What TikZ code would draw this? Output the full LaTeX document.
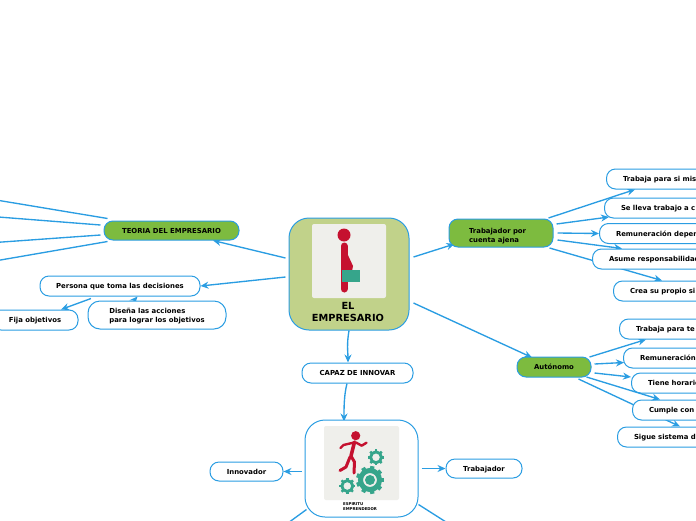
\documentclass[tikz,border=0pt]{standalone}
\usepackage{fontspec}
\setmainfont{DejaVu Sans}
\usepackage{xcolor}
\usepackage{tikz}
\usetikzlibrary{calc, arrows.meta, backgrounds}

\definecolor{linkblue}{HTML}{2A9DE2}
\definecolor{leafgreen}{HTML}{7DBB3F}
\definecolor{rootgreen}{HTML}{C1D28A}
\definecolor{iconred}{HTML}{C5112F}
\definecolor{iconteal}{HTML}{36A58B}
\definecolor{iconback}{HTML}{EFEFEB}

\tikzset{
    rootbox/.style={draw=linkblue, line width=1pt, rounded corners=20pt, inner sep=0pt},
    greenbox/.style={draw=linkblue, line width=1pt, fill=leafgreen, rounded corners=9pt, inner sep=0pt, text depth=0pt, font=\fontsize{6.9}{9}\selectfont\bfseries, align=left},
    whitebox/.style={draw=linkblue, line width=1pt, fill=white, rounded corners=9pt, inner sep=0pt, text depth=0pt, minimum height=20pt, font=\fontsize{6.9}{9}\selectfont\bfseries, align=left},
    leafbox/.style={whitebox, anchor=west, minimum width=180pt, inner xsep=16.5pt, text width=147pt},
    link/.style={->, draw=linkblue, line width=1.35pt},
    plain/.style={draw=linkblue, line width=1.35pt},
}

% Rueda dentada: centro, radio, numero de dientes
\newcommand{\gearicon}[3]{
    \draw[iconteal, line width=#2*0.36pt] (#1) circle[radius=#2*0.68];
    \foreach \a in {1,...,#3}
        \draw[iconteal, line width=#2*0.3pt] ($(#1)+({\a*360/#3}:#2*0.75)$) -- ($(#1)+({\a*360/#3}:#2)$);
}

\begin{document}
\begin{tikzpicture}[x=1pt, y=-1pt, >={Stealth[length=8pt,width=7pt]}]
    \clip (0,0) rectangle (696,520);

    % Nodo central
    \node[rootbox, fill=rootgreen, minimum width=120pt, minimum height=112pt] (main) at (349,274) {};
    \node[fill=iconback, rounded corners=2pt, minimum width=74pt, minimum height=74pt, inner sep=0pt] (mainicon) at (349,261) {};
    \node[font=\fontsize{9.8}{12.5}\selectfont\bfseries, align=center, inner sep=0pt] (mainlabel) at (348,312) {EL\\EMPRESARIO};

    % Figura con maletin
    \fill[iconred] (344,235) circle[radius=6.5];
    \draw[iconred, line width=7pt, line cap=round] (344,246) -- (344,289);
    \fill[iconred] (347,253) -- (353,266) -- (352,271) -- (346,271) -- cycle;
    \fill[iconteal] (342,270) rectangle (360,282);

    % Ramas de primer nivel
    \node[greenbox, minimum width=135pt, minimum height=19pt] (teoria) at (171.5,230.5) {TEORIA DEL EMPRESARIO};
    \node[greenbox, minimum width=104pt, minimum height=28pt, text width=64pt, text depth=5pt] (ajena) at (501,233) {Trabajador por\\cuenta ajena};
    \node[greenbox, minimum width=74pt, minimum height=20pt] (autonomo) at (554,367) {Autónomo};
    \node[whitebox, minimum width=111pt] (capaz) at (357.5,373) {CAPAZ DE INNOVAR};

    % Izquierda
    \node[whitebox, minimum width=160pt] (persona) at (120,286) {Persona que toma las decisiones};
    \node[whitebox, minimum width=86pt] (fija) at (35,320) {Fija objetivos};
    \node[whitebox, minimum width=138pt, minimum height=28pt, rounded corners=12pt] (disena) at (157,315) {Diseña las acciones\\para lograr los objetivos};

    % Derecha, trabajador por cuenta ajena
    \node[leafbox] (mismo) at (606,179) {Trabaja para si mis};
    \node[leafbox] (casa) at (604,208) {Se lleva trabajo a c};
    \node[leafbox] (depen) at (599,233.5) {Remuneración depen};
    \node[leafbox] (asume) at (592,259) {Asume responsabilidad};
    \node[leafbox] (crea) at (613,291) {Crea su propio si};

    % Derecha, autonomo
    \node[leafbox] (terceros) at (619,329) {Trabaja para te};
    \node[leafbox] (remu) at (623,358) {Remuneración};
    \node[leafbox] (tiene) at (631,383) {Tiene horario};
    \node[leafbox] (cumple) at (632,410) {Cumple con};
    \node[leafbox] (sigue) at (617,437) {Sigue sistema de};

    % Espiritu emprendedor
    \node[rootbox, fill=white, minimum width=113pt, minimum height=97pt] (espiritu) at (361.5,468.5) {};
    \node[fill=iconback, rounded corners=2pt, minimum width=75pt, minimum height=74pt, inner sep=0pt] (espicon) at (361.5,463) {};
    \node[font=\fontsize{3.9}{5}\selectfont\bfseries, align=left, inner sep=0pt, anchor=north west] (esplabel) at (343,502) {ESPIRITU\\EMPRENDEDOR};
    \node[whitebox, minimum width=73pt, minimum height=19pt] (innovador) at (246.5,471.5) {Innovador};
    \node[whitebox, minimum width=76pt, minimum height=19pt] (trabajador) at (484,468.5) {Trabajador};

    % Corredor
    \fill[iconred] (355.7,435.7) circle[radius=4.6];
    \draw[iconred, line width=3.6pt, line cap=round, line join=round] (354.5,442) -- (351,456);
    \draw[iconred, line width=2.4pt, line cap=round, line join=round] (354,442.5) -- (343.5,445) -- (340.5,448);
    \draw[iconred, line width=2.4pt, line cap=round, line join=round] (356,442.5) -- (361.7,445.7) -- (366.5,442.7);
    \draw[iconred, line width=3pt, line cap=round, line join=round] (351,456) -- (354.5,462) -- (354,473);
    \draw[iconred, line width=3pt, line cap=round, line join=round] (350,457) -- (346,467) -- (340,470.5);
    \gearicon{370,480}{14}{9}
    \fill[iconteal] (370,480) circle[radius=5];
    \gearicon{376,457.3}{8}{8}
    \gearicon{347.3,486}{8}{8}

    % Extremos libres
    \coordinate (teoriaA) at (-40,194);
    \coordinate (teoriaB) at (-40,214);
    \coordinate (teoriaC) at (-40,245);
    \coordinate (teoriaD) at (-40,267);
    \coordinate (espiritA) at (277,531);
    \coordinate (espiritB) at (468,536);

    % Conectores detras de los nodos
    \begin{scope}[on background layer]
        \draw[link] ($(main.west)+(-3,-16)$) -- ($(teoria.south)+(41.5,0)$);
        \draw[link] ($(main.west)+(-3,3)$) -- (persona.east);
        \draw[link] ($(main.east)+(4,-17)$) -- ($(ajena.west)+(6,11)$);
        \draw[link] ($(main.east)+(4,29)$) -- ($(autonomo.north)+(-22,1)$);
        \draw[link] (main.south) .. controls (346.5,345) and (348,352) .. ($(capaz.north)+(-9.5,0)$);
        \draw[link] ($(capaz.south)+(-10.5,0)$) .. controls (344,395) and (344,408) .. ($(espiritu.north)+(-17.5,2)$);

        \draw[plain] ($(teoria.north west)+(4,-2)$) -- (teoriaA);
        \draw[plain] ($(teoria.west)+(-3,-5.5)$) -- (teoriaB);
        \draw[plain] ($(teoria.west)+(-3,4.5)$) -- (teoriaC);
        \draw[plain] ($(teoria.south west)+(4,1)$) -- (teoriaD);

        \draw[link] ($(persona.south)+(-29,2)$) -- ($(fija.north)+(26,0)$);
        \draw[link] ($(disena.north)+(-23,0)$) -- ($(persona.south)+(17.5,0)$);

        \draw[link] ($(ajena.east)+(-5,-15)$) -- ($(mismo.south west)+(29,0)$);
        \draw[link] ($(ajena.east)+(4,7)$) -- ($(asume.north west)+(30,0)$);
        \draw[link] ($(ajena.east)+(-4,15)$) -- ($(crea.north west)+(49,0)$);

        \draw[link] ($(autonomo.east)+(-2,-10)$) -- ($(terceros.south west)+(27,0)$);
        \draw[link] ($(autonomo.east)+(-13,12)$) -- ($(sigue.north west)+(63,0)$);

        \draw[link] ($(espiritu.west)+(-3,3)$) -- (innovador.east);
        \draw[link] ($(espiritu.east)+(3,0)$) -- (trabajador.west);
        \draw[plain] ($(espiritu.south west)+(2,-8)$) -- (espiritA);
        \draw[plain] ($(espiritu.south east)+(0,-13)$) -- (espiritB);
    \end{scope}

    % Conectores que pisan el borde del nodo
    \draw[link] ($(ajena.east)+(3,-9)$) -- ($(casa.west)+(5,9)$);
    \draw[link] ($(ajena.east)+(4,0)$) -- (depen.west);
    \draw[link] ($(autonomo.east)+(3,-3)$) -- ($(remu.west)+(1,4.5)$);
    \draw[link] ($(autonomo.east)+(3,6)$) -- ($(tiene.west)+(0,-6)$);
    \draw[link] ($(autonomo.east)+(-5,10)$) -- ($(cumple.north west)+(28,0)$);
\end{tikzpicture}
\end{document}
